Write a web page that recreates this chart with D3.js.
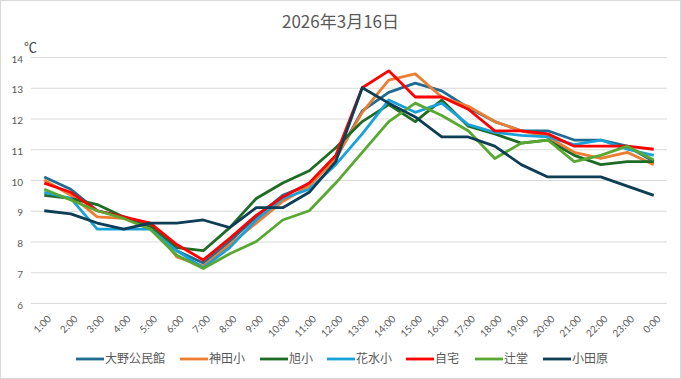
<!DOCTYPE html>
<html><head><meta charset="utf-8">
<script src="https://cdn.jsdelivr.net/npm/d3@7"></script>
<style>
html,body{margin:0;padding:0;background:#fff;}
svg{display:block;font-family:"Noto Sans CJK JP","Noto Sans",sans-serif;}
</style></head>
<body><svg id="c" width="681" height="379"></svg>
<script>
const title = "2026年3月16日";
const unitLabel = "℃";
const hours = ["1:00","2:00","3:00","4:00","5:00","6:00","7:00","8:00","9:00","10:00","11:00","12:00","13:00","14:00","15:00","16:00","17:00","18:00","19:00","20:00","21:00","22:00","23:00","0:00"];
const yTicks = [6,7,8,9,10,11,12,13,14];
const seriesNames = ["大野公民館","神田小","旭小","花水小","自宅","辻堂","小田原"];
const seriesColors = ["#1f6b91","#ed7d31","#1e6b24","#19a2da","#ff0000","#58a831","#0e3d56"];
const ohno    = [10.1,9.7,9.0,8.8,8.5,7.7,7.3,8.0,8.8,9.5,9.85,10.7,12.25,12.85,13.15,12.9,12.35,11.9,11.6,11.6,11.3,11.3,11.1,10.6];
const kanda   = [10.0,9.5,8.8,8.75,8.6,7.5,7.2,7.9,8.6,9.3,9.8,10.7,12.2,13.25,13.45,12.7,12.4,11.9,11.6,11.4,10.9,10.7,10.9,10.5];
const asahi   = [9.5,9.4,9.2,8.8,8.5,7.8,7.7,8.45,9.4,9.9,10.3,11.05,11.9,12.45,11.9,12.6,11.75,11.5,11.2,11.3,10.8,10.5,10.6,10.6];
const hanamizu= [9.6,9.4,8.4,8.4,8.4,7.7,7.15,7.8,8.7,9.4,9.7,10.5,11.5,12.6,12.2,12.5,11.8,11.55,11.45,11.4,11.15,11.3,11.0,10.8];
const jitaku  = [9.9,9.6,9.0,8.8,8.6,7.9,7.4,8.1,8.85,9.45,9.9,10.8,13.0,13.55,12.7,12.7,12.3,11.6,11.6,11.5,11.1,11.1,11.1,11.0];
const tsujido = [9.7,9.35,9.0,8.75,8.4,7.55,7.12,7.6,8.0,8.7,9.0,9.9,10.9,11.9,12.5,12.1,11.6,10.7,11.2,11.3,10.6,10.8,11.1,10.65];
const odawara = [9.0,8.9,8.6,8.4,8.6,8.6,8.7,8.45,9.1,9.1,9.6,10.6,13.0,12.5,12.05,11.4,11.4,11.1,10.5,10.1,10.1,10.1,9.8,9.5];
const seriesValues = [ohno,kanda,asahi,hanamizu,jitaku,tsujido,odawara];

const W = 681, H = 379;
const svg = d3.select("#c");
svg.append("rect").attr("x",0.5).attr("y",0.5).attr("width",W-1).attr("height",H-1)
  .attr("fill","#fff").attr("stroke","#d9d9d9");

const m = {l:31, r:14, t:57, b:76};
const x = d3.scaleBand().domain(hours).range([m.l, W-m.r]);
const y = d3.scaleLinear().domain([6,14]).range([H-m.b, m.t]);

const gy = svg.append("g").attr("transform",`translate(${m.l},0)`)
  .call(d3.axisLeft(y).tickValues(yTicks).tickSize(-(W-m.l-m.r)).tickPadding(8));
gy.select(".domain").remove();
gy.selectAll(".tick line").attr("stroke","#d9d9d9").attr("stroke-width",1);
gy.selectAll(".tick text").attr("fill","#595959").style("font-size","10px")
  .style("font-family","Lato, 'Noto Sans', sans-serif").attr("dy","0.5em");

const gx = svg.append("g").attr("transform",`translate(0,${H-m.b})`)
  .call(d3.axisBottom(x).tickSize(0));
gx.select(".domain").remove();
gx.selectAll(".tick text").attr("fill","#595959").style("font-size","10px")
  .style("font-family","Lato, 'Noto Sans', sans-serif")
  .attr("text-anchor","end").attr("transform","translate(2,11) rotate(-45)").attr("dy","0.5em").attr("dx","0");

const line = d3.line().x((d,i)=>x(hours[i])+x.bandwidth()/2).y(d=>y(d));
seriesValues.forEach((vals,k)=>{
  svg.append("path").datum(vals).attr("d",line).attr("fill","none")
    .attr("stroke",seriesColors[k]).attr("stroke-width",2.8).attr("stroke-linejoin","round");
});

svg.append("text").attr("x",W/2).attr("y",28).attr("text-anchor","middle")
  .attr("fill","#595959").style("font-size","17px").text(title);
svg.append("text").attr("x",24).attr("y",52).attr("fill","#404040").style("font-size","13px").text(unitLabel);

const legX = [76,180,260,327,406,475,543];
const lg = svg.append("g");
seriesNames.forEach((n,k)=>{
  const g = lg.append("g").attr("transform",`translate(${legX[k]},359)`);
  g.append("line").attr("x1",0).attr("x2",28).attr("y1",0).attr("y2",0)
    .attr("stroke",seriesColors[k]).attr("stroke-width",2.8);
  g.append("text").attr("x",29).attr("y",0).attr("dy","0.35em").attr("fill","#595959")
    .style("font-size","12px").text(n);
});
</script></body></html>
